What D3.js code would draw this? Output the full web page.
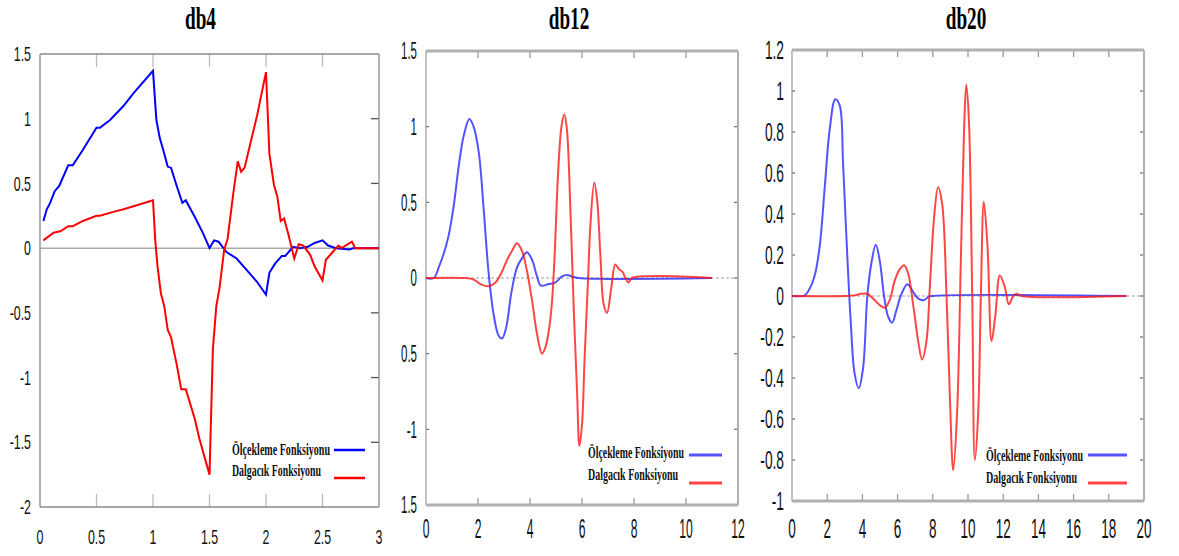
<!DOCTYPE html>
<html>
<head>
<meta charset="utf-8">
<script src="https://cdn.jsdelivr.net/npm/d3@7"></script>
<style>
  body { margin: 0; background: #fff; }
  svg { display: block; }
  .tick-label { font-family: "Liberation Sans", Arial, sans-serif; fill: #111; }
  .title { font-family: "Liberation Serif", "Times New Roman", serif; font-weight: bold; fill: #000; }
  .legend { font-family: "Liberation Serif", "Times New Roman", serif; font-weight: bold; fill: #111; }
</style>
</head>
<body>
<svg width="1179" height="556"></svg>
<script>
// ---- data ----
var legendNames = ['Ölçekleme Fonksiyonu', 'Dalgacık Fonksiyonu'];
var titles = ['db4', 'db12', 'db20'];

// db4
var db4ScaleX = [0.03,0.06,0.09,0.13,0.17,0.25,0.29,0.38,0.5,0.53,0.62,0.74,0.83,1.0,1.03,1.06,1.09,1.13,1.16,1.21,1.26,1.29,1.37,1.44,1.5,1.54,1.58,1.65,1.74,1.83,1.92,2.0,2.03,2.08,2.14,2.17,2.24,2.3,2.37,2.43,2.5,2.55,2.62,2.74,2.77,3.0];
var db4ScaleY = [0.21,0.30,0.35,0.44,0.48,0.64,0.64,0.76,0.93,0.93,0.99,1.10,1.20,1.37,0.99,0.85,0.76,0.63,0.62,0.48,0.35,0.37,0.24,0.12,0.0,0.06,0.05,-0.03,-0.08,-0.17,-0.26,-0.36,-0.19,-0.12,-0.06,-0.06,0.01,0.0,0.01,0.04,0.06,0.02,0.0,-0.01,0.0,0.0];
var db4WaveX = [0.03,0.12,0.18,0.25,0.29,0.38,0.5,0.53,0.65,0.74,1.0,1.02,1.04,1.07,1.1,1.13,1.16,1.21,1.25,1.29,1.37,1.41,1.5,1.53,1.56,1.59,1.63,1.66,1.71,1.75,1.78,1.81,1.87,1.92,2.0,2.03,2.07,2.1,2.13,2.16,2.2,2.25,2.29,2.33,2.39,2.43,2.5,2.53,2.59,2.64,2.67,2.76,2.79,3.0];
var db4WaveY = [0.06,0.12,0.13,0.17,0.17,0.21,0.25,0.25,0.28,0.30,0.37,0.06,-0.14,-0.35,-0.45,-0.63,-0.69,-0.90,-1.09,-1.09,-1.32,-1.47,-1.75,-0.78,-0.45,-0.30,-0.01,0.07,0.42,0.67,0.59,0.62,0.84,1.02,1.36,0.73,0.49,0.40,0.21,0.23,0.10,-0.08,0.03,0.02,-0.05,-0.14,-0.25,-0.09,-0.03,0.02,0.0,0.05,0.0,0.0];

// db12
var db12ScaleX = [0,0.3,0.49,0.68,0.87,1.06,1.26,1.45,1.67,1.83,2.03,2.22,2.41,2.6,2.79,2.92,3.08,3.28,3.5,3.69,3.88,4.08,4.27,4.42,4.72,4.97,5.23,5.42,5.62,5.87,11];
var db12ScaleY = [0,0,0.07,0.16,0.28,0.47,0.74,0.94,1.05,1.0,0.83,0.45,0.03,-0.24,-0.38,-0.40,-0.33,-0.10,0.07,0.13,0.17,0.12,0.01,-0.05,-0.04,-0.03,0.01,0.02,0.01,0,0];
var db12WaveX = [0,1.51,1.83,2.09,2.41,2.67,2.86,3.12,3.31,3.5,3.69,3.88,4.08,4.27,4.46,4.59,4.74,4.85,4.95,5.08,5.21,5.32,5.42,5.55,5.68,5.81,5.9,6.0,6.1,6.23,6.32,6.47,6.58,6.71,6.83,6.96,7.13,7.28,7.41,7.56,7.67,7.79,7.92,11];
var db12WaveY = [0,0,-0.01,-0.04,-0.055,-0.03,0.02,0.12,0.18,0.23,0.18,0.05,-0.15,-0.37,-0.50,-0.46,-0.33,-0.15,0.16,0.69,1.0,1.08,0.98,0.47,-0.19,-0.75,-1.11,-0.97,-0.53,-0.02,0.34,0.63,0.52,0.14,-0.17,-0.23,-0.06,0.09,0.06,0.04,0.0,-0.03,0,0];

// db20
var db20ScaleX = [0,0.72,1.0,1.29,1.57,1.86,2.14,2.46,2.71,2.9,3.09,3.34,3.56,3.79,4.04,4.28,4.51,4.76,4.99,5.23,5.46,5.69,5.93,6.22,6.56,6.88,7.17,7.51,7.73,7.92,19];
var db20ScaleY = [0,0.003,0.035,0.10,0.24,0.53,0.81,0.96,0.93,0.65,0.29,-0.13,-0.38,-0.45,-0.35,0,0.16,0.25,0.17,0.0,-0.10,-0.13,-0.07,0.01,0.057,0.02,-0.013,-0.02,-0.005,0,0];
var db20WaveX = [0,3.0,3.56,3.94,4.28,4.61,4.99,5.27,5.55,5.84,6.12,6.37,6.6,6.88,7.17,7.39,7.64,7.83,8.08,8.3,8.53,8.78,8.97,9.16,9.38,9.59,9.78,9.9,10.05,10.24,10.39,10.58,10.73,10.9,11.11,11.34,11.56,11.81,12.09,12.32,12.57,12.76,13.04,19];
var db20WaveY = [0,0,0.003,0.011,0.011,-0.013,-0.045,-0.057,-0.02,0.076,0.13,0.15,0.11,-0.04,-0.22,-0.31,-0.22,0.04,0.39,0.53,0.45,0.0,-0.49,-0.85,-0.57,0.16,0.82,1.03,0.86,0.0,-0.80,-0.57,0,0.46,0.24,-0.22,-0.09,0.10,0.044,-0.04,0,0.011,0,0];

// tick values and labels (as printed in the picture)
var db4XTicks = [0,0.5,1,1.5,2,2.5,3];
var db4XLabels = ['0','0.5','1','1.5','2','2.5','3'];
var db4YTicks = [-2,-1.5,-1,-0.5,0,0.5,1,1.5];
var db4YLabels = ['-2','-1.5','-1','-0.5','0','0.5','1','1.5'];
var db12XTicks = [0,2,4,6,8,10,12];
var db12XLabels = ['0','2','4','6','8','10','12'];
var db12YTicks = [-1.5,-1,-0.5,0,0.5,1,1.5];
var db12YLabels = ['1.5','-1','0.5','0','0.5','1','1.5'];
var db20XTicks = [0,2,4,6,8,10,12,14,16,18,20];
var db20XLabels = ['0','2','4','6','8','10','12','14','16','18','20'];
var db20YTicks = [-1,-0.8,-0.6,-0.4,-0.2,0,0.2,0.4,0.6,0.8,1,1.2];
var db20YLabels = ['-1','-0.8','-0.6','-0.4','-0.2','0','0.2','0.4','0.6','0.8','1','1.2'];

var svg = d3.select('svg');

function zip(xs, ys) { return xs.map(function(x, i) { return [x, ys[i]]; }); }

// squeezed label: text drawn tall and narrow like the original
function label(g, x, y, txt, anchor, size, sx, cls) {
  g.append('text')
    .attr('class', cls || 'tick-label')
    .attr('transform', 'translate(' + x + ',' + y + ') scale(' + sx + ',1)')
    .attr('text-anchor', anchor)
    .style('font-size', size + 'px')
    .text(txt);
}

function panel(p) {
  var x = d3.scaleLinear().domain(p.xDomain).range([p.left, p.right]),
      y = d3.scaleLinear().domain(p.yDomain).range([p.bottom, p.top]),
      g = svg.append('g');

  // title
  label(g, (p.left + p.right) / 2 + p.titleDx, 29, p.title, 'middle', 32, 0.6, 'title');

  // zero line
  g.append('line')
    .attr('x1', p.left).attr('x2', p.right)
    .attr('y1', y(0)).attr('y2', y(0))
    .attr('stroke', p.zeroColor).attr('stroke-width', p.zeroWidth)
    .attr('stroke-dasharray', p.zeroDash);

  // ticks on x (top and bottom, pointing inward)
  p.xTicks.forEach(function(t, i) {
    if (t > p.xDomain[0] && t < p.xDomain[1]) {
      g.append('line').attr('x1', x(t)).attr('x2', x(t)).attr('y1', p.top).attr('y2', p.top + p.xTickLen)
        .attr('stroke', p.tickColor).attr('stroke-width', 1.3);
      g.append('line').attr('x1', x(t)).attr('x2', x(t)).attr('y1', p.bottom).attr('y2', p.bottom - p.xTickLen)
        .attr('stroke', p.tickColor).attr('stroke-width', 1.3);
    }
    label(g, x(t), p.xLabelY, p.xLabels[i], 'middle', p.xFont, p.xScale);
  });

  // ticks on y (right side, and left when drawn)
  p.yTicks.forEach(function(t, i) {
    if (t > p.yDomain[0] && t < p.yDomain[1]) {
      g.append('line').attr('x1', p.right).attr('x2', p.right - p.yTickLen).attr('y1', y(t)).attr('y2', y(t))
        .attr('stroke', p.yTickColor).attr('stroke-width', 1.3);
      if (p.leftTicks) {
        g.append('line').attr('x1', p.left).attr('x2', p.left + p.leftTicks).attr('y1', y(t)).attr('y2', y(t))
          .attr('stroke', p.yTickColor).attr('stroke-width', 1.3);
      }
    }
    label(g, p.left - p.yLabelGap, y(t) + p.yFont * 0.36, p.yLabels[i], 'end', p.yFont, p.yScale);
  });

  // frame
  g.append('line').attr('x1', p.left).attr('x2', p.left).attr('y1', p.top).attr('y2', p.bottom)
    .attr('stroke', p.leftColor).attr('stroke-width', p.leftWidth);
  g.append('line').attr('x1', p.left).attr('x2', p.right).attr('y1', p.top).attr('y2', p.top)
    .attr('stroke', p.frameColor).attr('stroke-width', p.frameWidth);
  g.append('line').attr('x1', p.left).attr('x2', p.right).attr('y1', p.bottom).attr('y2', p.bottom)
    .attr('stroke', p.frameColor).attr('stroke-width', p.frameWidth);
  g.append('line').attr('x1', p.right).attr('x2', p.right).attr('y1', p.top).attr('y2', p.bottom)
    .attr('stroke', p.frameColor).attr('stroke-width', p.rightWidth);

  var line = d3.line()
    .x(function(d) { return x(d[0]); })
    .y(function(d) { return y(d[1]); })
    .curve(p.curve);

  g.append('path').datum(zip(p.scaleX, p.scaleY))
    .attr('d', line).attr('fill', 'none')
    .attr('stroke', p.blue).attr('stroke-width', p.lineWidth).attr('stroke-opacity', p.opacity);
  g.append('path').datum(zip(p.waveX, p.waveY))
    .attr('d', line).attr('fill', 'none')
    .attr('stroke', p.red).attr('stroke-width', p.lineWidth).attr('stroke-opacity', p.opacity);

  // legend
  var L = p.legend;
  g.append('text').attr('class', 'legend')
    .attr('x', L.x).attr('y', L.y1).style('font-size', '17px')
    .attr('textLength', L.w1).attr('lengthAdjust', 'spacingAndGlyphs')
    .text(legendNames[0]);
  g.append('text').attr('class', 'legend')
    .attr('x', L.x).attr('y', L.y2).style('font-size', '17px')
    .attr('textLength', L.w2).attr('lengthAdjust', 'spacingAndGlyphs')
    .text(legendNames[1]);
  g.append('line').attr('x1', L.lx1).attr('x2', L.lx2).attr('y1', L.ly1).attr('y2', L.ly1)
    .attr('stroke', p.blue).attr('stroke-width', L.lw).attr('stroke-opacity', p.opacity);
  g.append('line').attr('x1', L.lx1).attr('x2', L.lx2).attr('y1', L.ly2).attr('y2', L.ly2)
    .attr('stroke', p.red).attr('stroke-width', L.lw).attr('stroke-opacity', p.opacity);
}

panel({
  title: titles[0], titleDx: -9,
  left: 40, right: 379, top: 54, bottom: 507,
  xDomain: [0, 3], yDomain: [-2, 1.5],
  xTicks: db4XTicks, xLabels: db4XLabels, yTicks: db4YTicks, yLabels: db4YLabels,
  xLabelY: 544, xFont: 20, xScale: 0.62, yFont: 20, yScale: 0.62, yLabelGap: 9,
  xTickLen: 13, yTickLen: 8, leftTicks: 0,
  tickColor: '#bbb', yTickColor: '#555',
  zeroColor: '#aaa', zeroWidth: 1.5, zeroDash: null,
  frameColor: '#8a8a8a', frameWidth: 1.3, rightWidth: 1.3, leftColor: '#8a8a8a', leftWidth: 1.3,
  scaleX: db4ScaleX, scaleY: db4ScaleY, waveX: db4WaveX, waveY: db4WaveY,
  blue: '#0000ff', red: '#ff0000', lineWidth: 2, opacity: 1, curve: d3.curveLinear,
  legend: { x: 232, y1: 455, y2: 476, w1: 98, w2: 89, lx1: 334, lx2: 365, ly1: 450, ly2: 478, lw: 2.5 }
});

panel({
  title: titles[1], titleDx: -13,
  left: 426, right: 738, top: 51, bottom: 505,
  xDomain: [0, 12], yDomain: [-1.5, 1.5],
  xTicks: db12XTicks, xLabels: db12XLabels, yTicks: db12YTicks, yLabels: db12YLabels,
  xLabelY: 538, xFont: 27, xScale: 0.45, yFont: 23, yScale: 0.5, yLabelGap: 9,
  xTickLen: 7, yTickLen: 4, leftTicks: 3,
  tickColor: '#999', yTickColor: '#777',
  zeroColor: '#d0d0d0', zeroWidth: 2, zeroDash: '3,2',
  frameColor: '#b0b0b0', frameWidth: 3, rightWidth: 2, leftColor: '#999', leftWidth: 1.2,
  scaleX: db12ScaleX, scaleY: db12ScaleY, waveX: db12WaveX, waveY: db12WaveY,
  blue: '#2828ff', red: '#ff1818', lineWidth: 2, opacity: 0.8, curve: d3.curveCatmullRom.alpha(0.5),
  legend: { x: 588, y1: 458, y2: 480, w1: 96, w2: 90, lx1: 689, lx2: 722, ly1: 455, ly2: 483, lw: 3 }
});

panel({
  title: titles[2], titleDx: -2,
  left: 792, right: 1144, top: 50, bottom: 501,
  xDomain: [0, 20], yDomain: [-1, 1.2],
  xTicks: db20XTicks, xLabels: db20XLabels, yTicks: db20YTicks, yLabels: db20YLabels,
  xLabelY: 538, xFont: 27, xScale: 0.5, yFont: 25, yScale: 0.55, yLabelGap: 8,
  xTickLen: 7, yTickLen: 4, leftTicks: 3,
  tickColor: '#999', yTickColor: '#777',
  zeroColor: '#d0d0d0', zeroWidth: 2, zeroDash: '3,2',
  frameColor: '#b0b0b0', frameWidth: 3, rightWidth: 2, leftColor: '#999', leftWidth: 1.2,
  scaleX: db20ScaleX, scaleY: db20ScaleY, waveX: db20WaveX, waveY: db20WaveY,
  blue: '#2828ff', red: '#ff1818', lineWidth: 2, opacity: 0.8, curve: d3.curveCatmullRom.alpha(0.5),
  legend: { x: 986, y1: 461, y2: 483, w1: 97, w2: 91, lx1: 1088, lx2: 1127, ly1: 455, ly2: 483, lw: 3 }
});
</script>
</body>
</html>
